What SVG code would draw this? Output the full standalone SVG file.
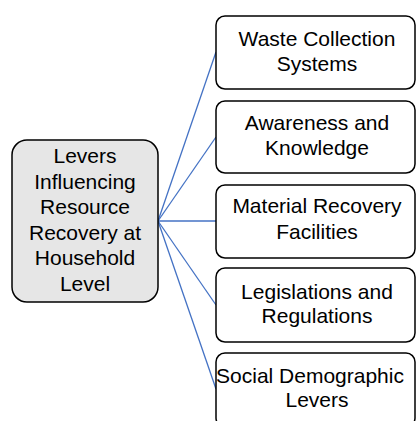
<svg xmlns="http://www.w3.org/2000/svg" width="416" height="421" viewBox="0 0 416 421">
<style>
.box{fill:#ffffff;stroke:#000;stroke-width:1.5}
.hub{fill:#e6e6e6;stroke:#000;stroke-width:1.5}
.t{font-family:"Liberation Sans",Arial,sans-serif;font-size:21px;fill:#000;text-anchor:middle}
.c{stroke:#4472c4;stroke-width:1.3;fill:none}
</style>
<rect width="416" height="421" fill="#fff"/>
<g id="connectors">
<line class="c" x1="158" y1="221" x2="216" y2="52"/>
<line class="c" x1="158" y1="221" x2="216" y2="137"/>
<line class="c" x1="158" y1="221" x2="216" y2="221"/>
<line class="c" x1="158" y1="221" x2="216" y2="305"/>
<line class="c" x1="158" y1="221" x2="216" y2="389"/>
</g>
<g id="hub">
<rect class="hub" x="12" y="140" width="146" height="162" rx="15"/>
<text class="t" x="85" y="163">Levers</text>
<text class="t" x="85" y="188.5">Influencing</text>
<text class="t" x="85" y="214">Resource</text>
<text class="t" x="85" y="239.5">Recovery at</text>
<text class="t" x="85" y="265">Household</text>
<text class="t" x="85" y="290.5">Level</text>
</g>
<g id="n1">
<rect class="box" x="216" y="16" width="199" height="73" rx="9"/>
<text class="t" x="317" y="46">Waste Collection</text>
<text class="t" x="317" y="71">Systems</text>
</g>
<g id="n2">
<rect class="box" x="216" y="101" width="199" height="72" rx="9"/>
<text class="t" x="317" y="130">Awareness and</text>
<text class="t" x="317" y="155">Knowledge</text>
</g>
<g id="n3">
<rect class="box" x="216" y="185" width="199" height="73" rx="9"/>
<text class="t" x="317" y="213">Material Recovery</text>
<text class="t" x="317" y="239">Facilities</text>
</g>
<g id="n4">
<rect class="box" x="216" y="268" width="199" height="74" rx="9"/>
<text class="t" x="317" y="299">Legislations and</text>
<text class="t" x="317" y="323">Regulations</text>
</g>
<g id="n5">
<rect class="box" x="216" y="353" width="199" height="74" rx="9"/>
<text class="t" x="310" y="383">Social Demographic</text>
<text class="t" x="317" y="407">Levers</text>
</g>
</svg>
